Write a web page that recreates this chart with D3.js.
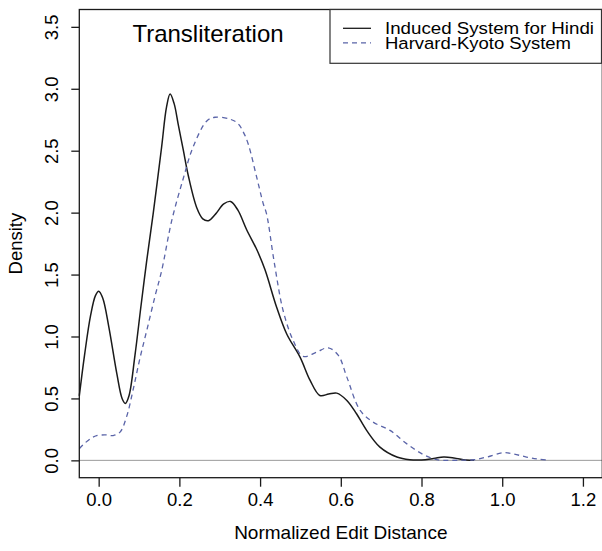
<!DOCTYPE html>
<html>
<head>
<meta charset="utf-8">
<script src="https://cdn.jsdelivr.net/npm/d3@7"></script>
<style>
  html, body { margin: 0; padding: 0; background: #fff; }
  svg { display: block; }
  text { font-family: "Liberation Sans", Arial, Helvetica, sans-serif; fill: #000; }
</style>
</head>
<body>
<svg id="chart" width="602" height="551"></svg>
<script>
// Kernel density estimates of normalized edit distance (x, density)
const inducedX = [-0.048, -0.035, -0.02, -0.008, 0.0, 0.01, 0.025, 0.045, 0.058, 0.066, 0.075, 0.09, 0.105, 0.119, 0.135, 0.156, 0.168, 0.177, 0.187, 0.197, 0.21, 0.222, 0.243, 0.258, 0.272, 0.29, 0.31, 0.327, 0.345, 0.367, 0.392, 0.412, 0.441, 0.466, 0.499, 0.524, 0.548, 0.57, 0.59, 0.615, 0.639, 0.664, 0.697, 0.739, 0.771, 0.80, 0.83, 0.855, 0.88, 0.91, 0.93];
const inducedY = [0.52, 0.85, 1.17, 1.33, 1.365, 1.31, 1.08, 0.70, 0.50, 0.46, 0.52, 0.85, 1.25, 1.61, 1.99, 2.53, 2.85, 2.957, 2.88, 2.715, 2.50, 2.30, 2.04, 1.95, 1.935, 1.99, 2.07, 2.09, 2.02, 1.86, 1.70, 1.54, 1.236, 1.02, 0.833, 0.645, 0.524, 0.535, 0.543, 0.484, 0.376, 0.242, 0.107, 0.027, 0.005, 0.003, 0.015, 0.027, 0.02, 0.003, 0.0];

const hkX = [-0.048, -0.034, -0.018, -0.005, 0.02, 0.036, 0.053, 0.069, 0.086, 0.102, 0.12, 0.14, 0.156, 0.181, 0.21, 0.234, 0.268, 0.288, 0.325, 0.345, 0.36, 0.371, 0.392, 0.408, 0.416, 0.435, 0.457, 0.482, 0.507, 0.54, 0.569, 0.594, 0.615, 0.648, 0.68, 0.722, 0.763, 0.804, 0.838, 0.87, 0.9, 0.93, 0.962, 1.003, 1.03, 1.06, 1.09, 1.118];
const hkY = [0.094, 0.14, 0.18, 0.2, 0.205, 0.2, 0.228, 0.35, 0.58, 0.82, 1.06, 1.33, 1.53, 1.935, 2.28, 2.53, 2.74, 2.77, 2.755, 2.72, 2.64, 2.55, 2.28, 2.07, 1.99, 1.6, 1.21, 0.968, 0.839, 0.874, 0.909, 0.847, 0.672, 0.403, 0.309, 0.242, 0.135, 0.048, 0.006, 0.0, 0.002, 0.005, 0.027, 0.062, 0.05, 0.027, 0.01, 0.0];

const xTicks = [0.0, 0.2, 0.4, 0.6, 0.8, 1.0, 1.2];
const yTicks = [0.0, 0.5, 1.0, 1.5, 2.0, 2.5, 3.0, 3.5];
const seriesNames = ["Induced System for Hindi", "Harvard-Kyoto System"];
const chartTitle = "Transliteration";
const xLabel = "Normalized Edit Distance";
const yLabel = "Density";

const svg = d3.select("#chart");
const plot = { left: 79.3, right: 602.3, top: 9.5, bottom: 477.7 };
const FONT = "'Liberation Sans', Arial, sans-serif";

const x = d3.scaleLinear().domain([-0.048, 1.248]).range([plot.left, plot.right]);
const y = d3.scaleLinear().domain([-0.14, 3.64]).range([plot.bottom, plot.top]);

// Zero reference line
svg.append("line")
  .attr("x1", plot.left).attr("x2", plot.right)
  .attr("y1", y(0)).attr("y2", y(0))
  .attr("stroke", "#9a9a9a").attr("stroke-width", 1);

const line = d3.line()
  .x(d => x(d[0])).y(d => y(d[1]))
  .curve(d3.curveCatmullRom.alpha(0.5));

svg.append("path")
  .datum(d3.zip(inducedX, inducedY))
  .attr("d", line)
  .attr("fill", "none").attr("stroke", "#1a1a1a").attr("stroke-width", 1.5);

svg.append("path")
  .datum(d3.zip(hkX, hkY))
  .attr("d", line)
  .attr("fill", "none").attr("stroke", "#5a64a8").attr("stroke-width", 1.3)
  .attr("stroke-dasharray", "5,4");

// Frame
svg.append("rect")
  .attr("x", plot.left).attr("y", plot.top)
  .attr("width", plot.right - plot.left).attr("height", plot.bottom - plot.top)
  .attr("fill", "none").attr("stroke", "#1a1a1a").attr("stroke-width", 1.3);

// X axis
const xAxis = svg.append("g")
  .attr("transform", `translate(0,${plot.bottom})`)
  .call(d3.axisBottom(x).tickValues(xTicks).tickFormat(d3.format(".1f")).tickSize(9).tickPadding(6));
xAxis.select(".domain").remove();
xAxis.selectAll(".tick line").attr("stroke", "#1a1a1a").attr("stroke-width", 1.3);
xAxis.selectAll(".tick text").attr("font-size", 18.5).attr("fill", "#000")
  .attr("font-family", FONT);

// Y axis with rotated labels
const yAxis = svg.append("g")
  .attr("transform", `translate(${plot.left},0)`)
  .call(d3.axisLeft(y).tickValues(yTicks).tickFormat(d3.format(".1f")).tickSize(8));
yAxis.select(".domain").remove();
yAxis.selectAll(".tick line").attr("stroke", "#1a1a1a").attr("stroke-width", 1.3);
yAxis.selectAll(".tick text")
  .attr("font-size", 18.5).attr("fill", "#000")
  .attr("font-family", FONT)
  .attr("x", null).attr("dy", null)
  .attr("text-anchor", "middle")
  .attr("transform", "translate(-21,0) rotate(-90)");

// Axis titles
svg.append("text")
  .attr("x", (plot.left + plot.right) / 2).attr("y", 538.5)
  .attr("text-anchor", "middle").attr("font-size", 19)
  .text(xLabel);

svg.append("text")
  .attr("transform", `translate(21.5,${(plot.top + plot.bottom) / 2}) rotate(-90)`)
  .attr("text-anchor", "middle").attr("font-size", 18.5)
  .text(yLabel);

// Panel title
svg.append("text")
  .attr("x", 208).attr("y", 41.5)
  .attr("text-anchor", "middle").attr("font-size", 24)
  .text(chartTitle);

// Legend
const legend = svg.append("g");
legend.append("rect")
  .attr("x", 330).attr("y", plot.top)
  .attr("width", 271.5).attr("height", 53.8)
  .attr("fill", "#fff").attr("stroke", "#333").attr("stroke-width", 1.2);

const legendStyles = [
  { stroke: "#1a1a1a", dash: null, width: 209 },
  { stroke: "#5a64a8", dash: "5,4", width: 186 }
];
seriesNames.forEach((name, i) => {
  const cy = 28.3 + i * 14.5;
  legend.append("line")
    .attr("x1", 343).attr("x2", 371).attr("y1", cy).attr("y2", cy)
    .attr("stroke", legendStyles[i].stroke).attr("stroke-width", 1.3)
    .attr("stroke-dasharray", legendStyles[i].dash);
  legend.append("text")
    .attr("x", 385).attr("y", cy + 5.8)
    .attr("font-size", 16.3)
    .attr("textLength", legendStyles[i].width)
    .attr("lengthAdjust", "spacingAndGlyphs")
    .text(name);
});
</script>
</body>
</html>
